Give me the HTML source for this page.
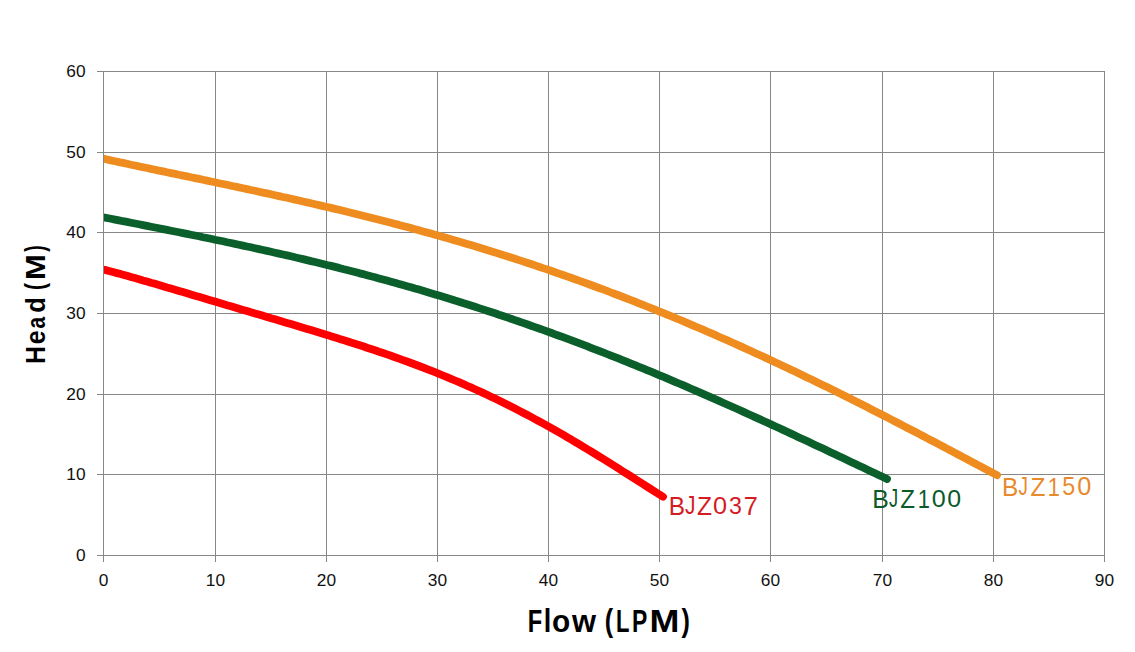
<!DOCTYPE html>
<html><head><meta charset="utf-8"><style>
html,body{margin:0;padding:0;background:#fff;}
body{width:1135px;height:652px;overflow:hidden;position:relative;}
svg{position:absolute;left:0;top:0;}
text{font-family:"Liberation Sans",sans-serif;}
</style></head>
<body>
<svg width="1135" height="652" viewBox="0 0 1135 652">
<defs><clipPath id="clip"><rect x="104" y="0" width="1135" height="652"/></clipPath></defs>
<g stroke="#878787" stroke-width="1" shape-rendering="crispEdges">
<line x1="97" y1="71.5" x2="1105" y2="71.5"/>
<line x1="97" y1="152.5" x2="1105" y2="152.5"/>
<line x1="97" y1="232.5" x2="1105" y2="232.5"/>
<line x1="97" y1="313.5" x2="1105" y2="313.5"/>
<line x1="97" y1="394.5" x2="1105" y2="394.5"/>
<line x1="97" y1="474.5" x2="1105" y2="474.5"/>
<line x1="97" y1="555.5" x2="1105" y2="555.5"/>
<line x1="215.5" y1="71" x2="215.5" y2="562"/>
<line x1="326.5" y1="71" x2="326.5" y2="562"/>
<line x1="437.5" y1="71" x2="437.5" y2="562"/>
<line x1="548.5" y1="71" x2="548.5" y2="562"/>
<line x1="659.5" y1="71" x2="659.5" y2="562"/>
<line x1="770.5" y1="71" x2="770.5" y2="562"/>
<line x1="882.5" y1="71" x2="882.5" y2="562"/>
<line x1="993.5" y1="71" x2="993.5" y2="562"/>
<line x1="1104.5" y1="71" x2="1104.5" y2="562"/>
</g>
<path d="M103.0,158.6 L107.0,159.5 L111.0,160.4 L115.0,161.2 L119.0,162.1 L123.0,162.9 L127.0,163.8 L131.0,164.7 L135.0,165.5 L139.0,166.4 L143.0,167.2 L147.0,168.0 L151.0,168.9 L155.0,169.7 L159.0,170.6 L163.0,171.4 L167.0,172.3 L171.0,173.1 L175.0,173.9 L179.0,174.8 L183.0,175.6 L187.0,176.4 L191.0,177.3 L195.0,178.1 L199.0,178.9 L203.0,179.8 L207.0,180.6 L211.0,181.5 L215.0,182.3 L219.0,183.2 L223.0,184.0 L227.0,184.8 L231.0,185.7 L235.0,186.5 L239.0,187.4 L243.0,188.2 L247.0,189.1 L251.0,190.0 L255.0,190.8 L259.0,191.7 L263.0,192.6 L267.0,193.4 L271.0,194.3 L275.0,195.2 L279.0,196.1 L283.0,197.0 L287.0,197.8 L291.0,198.7 L295.0,199.6 L299.0,200.5 L303.0,201.5 L307.0,202.4 L311.0,203.3 L315.0,204.2 L319.0,205.1 L323.0,206.1 L327.0,207.0 L331.0,207.9 L335.0,208.9 L339.0,209.8 L343.0,210.8 L347.0,211.8 L351.0,212.7 L355.0,213.7 L359.0,214.7 L363.0,215.7 L367.0,216.7 L371.0,217.7 L375.0,218.7 L379.0,219.7 L383.0,220.7 L387.0,221.8 L391.0,222.8 L395.0,223.9 L399.0,224.9 L403.0,226.0 L407.0,227.0 L411.0,228.1 L415.0,229.2 L419.0,230.3 L423.0,231.4 L427.0,232.5 L431.0,233.6 L435.0,234.7 L439.0,235.8 L443.0,236.9 L447.0,238.1 L451.0,239.2 L455.0,240.4 L459.0,241.6 L463.0,242.7 L467.0,243.9 L471.0,245.1 L475.0,246.3 L479.0,247.5 L483.0,248.7 L487.0,250.0 L491.0,251.2 L495.0,252.4 L499.0,253.7 L503.0,255.0 L507.0,256.2 L511.0,257.5 L515.0,258.8 L519.0,260.1 L523.0,261.4 L527.0,262.7 L531.0,264.0 L535.0,265.4 L539.0,266.7 L543.0,268.1 L547.0,269.4 L551.0,270.8 L555.0,272.2 L559.0,273.6 L563.0,275.0 L567.0,276.4 L571.0,277.8 L575.0,279.2 L579.0,280.6 L583.0,282.1 L587.0,283.5 L591.0,285.0 L595.0,286.5 L599.0,288.0 L603.0,289.4 L607.0,290.9 L611.0,292.5 L615.0,294.0 L619.0,295.5 L623.0,297.0 L627.0,298.6 L631.0,300.1 L635.0,301.7 L639.0,303.3 L643.0,304.9 L647.0,306.5 L651.0,308.1 L655.0,309.7 L659.0,311.3 L663.0,312.9 L667.0,314.6 L671.0,316.2 L675.0,317.9 L679.0,319.5 L683.0,321.2 L687.0,322.9 L691.0,324.6 L695.0,326.3 L699.0,328.0 L703.0,329.7 L707.0,331.5 L711.0,333.2 L715.0,334.9 L719.0,336.7 L723.0,338.5 L727.0,340.2 L731.0,342.0 L735.0,343.8 L739.0,345.6 L743.0,347.4 L747.0,349.2 L751.0,351.0 L755.0,352.9 L759.0,354.7 L763.0,356.6 L767.0,358.4 L771.0,360.3 L775.0,362.2 L779.0,364.0 L783.0,365.9 L787.0,367.8 L791.0,369.7 L795.0,371.6 L799.0,373.5 L803.0,375.5 L807.0,377.4 L811.0,379.3 L815.0,381.3 L819.0,383.2 L823.0,385.2 L827.0,387.1 L831.0,389.1 L835.0,391.1 L839.0,393.1 L843.0,395.1 L847.0,397.1 L851.0,399.1 L855.0,401.1 L859.0,403.1 L863.0,405.1 L867.0,407.1 L871.0,409.2 L875.0,411.2 L879.0,413.2 L883.0,415.3 L887.0,417.3 L891.0,419.4 L895.0,421.5 L899.0,423.5 L903.0,425.6 L907.0,427.7 L911.0,429.7 L915.0,431.8 L919.0,433.9 L923.0,436.0 L927.0,438.1 L931.0,440.2 L935.0,442.3 L939.0,444.4 L943.0,446.5 L947.0,448.6 L951.0,450.7 L955.0,452.9 L959.0,455.0 L963.0,457.1 L967.0,459.2 L971.0,461.4 L975.0,463.5 L979.0,465.6 L983.0,467.7 L987.0,469.9 L991.0,472.0 L995.0,474.1 L997.0,475.2" stroke="#ef8c1f" stroke-width="7.8" fill="none" stroke-linecap="round" stroke-linejoin="round" clip-path="url(#clip)"/>
<path d="M103.0,217.2 L107.0,218.0 L111.0,218.8 L115.0,219.6 L119.0,220.4 L123.0,221.2 L127.0,221.9 L131.0,222.7 L135.0,223.5 L139.0,224.3 L143.0,225.1 L147.0,225.9 L151.0,226.7 L155.0,227.5 L159.0,228.3 L163.0,229.1 L167.0,229.9 L171.0,230.7 L175.0,231.5 L179.0,232.3 L183.0,233.1 L187.0,233.9 L191.0,234.7 L195.0,235.5 L199.0,236.3 L203.0,237.2 L207.0,238.0 L211.0,238.8 L215.0,239.7 L219.0,240.5 L223.0,241.3 L227.0,242.2 L231.0,243.0 L235.0,243.9 L239.0,244.7 L243.0,245.6 L247.0,246.5 L251.0,247.3 L255.0,248.2 L259.0,249.1 L263.0,250.0 L267.0,250.9 L271.0,251.8 L275.0,252.7 L279.0,253.6 L283.0,254.5 L287.0,255.4 L291.0,256.3 L295.0,257.3 L299.0,258.2 L303.0,259.1 L307.0,260.1 L311.0,261.1 L315.0,262.0 L319.0,263.0 L323.0,264.0 L327.0,265.0 L331.0,265.9 L335.0,266.9 L339.0,267.9 L343.0,269.0 L347.0,270.0 L351.0,271.0 L355.0,272.0 L359.0,273.1 L363.0,274.1 L367.0,275.2 L371.0,276.3 L375.0,277.3 L379.0,278.4 L383.0,279.5 L387.0,280.6 L391.0,281.7 L395.0,282.8 L399.0,283.9 L403.0,285.1 L407.0,286.2 L411.0,287.3 L415.0,288.5 L419.0,289.6 L423.0,290.8 L427.0,292.0 L431.0,293.2 L435.0,294.4 L439.0,295.6 L443.0,296.8 L447.0,298.0 L451.0,299.2 L455.0,300.5 L459.0,301.7 L463.0,303.0 L467.0,304.2 L471.0,305.5 L475.0,306.8 L479.0,308.1 L483.0,309.4 L487.0,310.7 L491.0,312.0 L495.0,313.3 L499.0,314.7 L503.0,316.0 L507.0,317.4 L511.0,318.7 L515.0,320.1 L519.0,321.5 L523.0,322.9 L527.0,324.3 L531.0,325.7 L535.0,327.1 L539.0,328.5 L543.0,329.9 L547.0,331.4 L551.0,332.8 L555.0,334.3 L559.0,335.7 L563.0,337.2 L567.0,338.7 L571.0,340.2 L575.0,341.7 L579.0,343.2 L583.0,344.7 L587.0,346.2 L591.0,347.8 L595.0,349.3 L599.0,350.9 L603.0,352.4 L607.0,354.0 L611.0,355.6 L615.0,357.1 L619.0,358.7 L623.0,360.3 L627.0,361.9 L631.0,363.6 L635.0,365.2 L639.0,366.8 L643.0,368.4 L647.0,370.1 L651.0,371.7 L655.0,373.4 L659.0,375.1 L663.0,376.7 L667.0,378.4 L671.0,380.1 L675.0,381.8 L679.0,383.5 L683.0,385.2 L687.0,386.9 L691.0,388.7 L695.0,390.4 L699.0,392.1 L703.0,393.9 L707.0,395.6 L711.0,397.4 L715.0,399.1 L719.0,400.9 L723.0,402.7 L727.0,404.5 L731.0,406.3 L735.0,408.0 L739.0,409.8 L743.0,411.6 L747.0,413.5 L751.0,415.3 L755.0,417.1 L759.0,418.9 L763.0,420.7 L767.0,422.6 L771.0,424.4 L775.0,426.2 L779.0,428.1 L783.0,429.9 L787.0,431.8 L791.0,433.6 L795.0,435.5 L799.0,437.4 L803.0,439.2 L807.0,441.1 L811.0,443.0 L815.0,444.9 L819.0,446.7 L823.0,448.6 L827.0,450.5 L831.0,452.4 L835.0,454.3 L839.0,456.2 L843.0,458.1 L847.0,460.0 L851.0,461.9 L855.0,463.8 L859.0,465.7 L863.0,467.6 L867.0,469.5 L871.0,471.4 L875.0,473.3 L879.0,475.2 L883.0,477.1 L887.0,479.0" stroke="#0a5f2a" stroke-width="7.8" fill="none" stroke-linecap="round" stroke-linejoin="round" clip-path="url(#clip)"/>
<path d="M103.0,269.4 L107.0,270.4 L111.0,271.5 L115.0,272.6 L119.0,273.6 L123.0,274.7 L127.0,275.8 L131.0,277.0 L135.0,278.1 L139.0,279.2 L143.0,280.4 L147.0,281.5 L151.0,282.7 L155.0,283.8 L159.0,285.0 L163.0,286.2 L167.0,287.4 L171.0,288.5 L175.0,289.7 L179.0,290.9 L183.0,292.1 L187.0,293.3 L191.0,294.5 L195.0,295.7 L199.0,296.8 L203.0,298.0 L207.0,299.2 L211.0,300.4 L215.0,301.6 L219.0,302.8 L223.0,304.0 L227.0,305.2 L231.0,306.3 L235.0,307.5 L239.0,308.7 L243.0,309.9 L247.0,311.1 L251.0,312.3 L255.0,313.4 L259.0,314.6 L263.0,315.8 L267.0,317.0 L271.0,318.2 L275.0,319.3 L279.0,320.5 L283.0,321.7 L287.0,322.9 L291.0,324.1 L295.0,325.3 L299.0,326.5 L303.0,327.7 L307.0,328.9 L311.0,330.1 L315.0,331.3 L319.0,332.5 L323.0,333.7 L327.0,334.9 L331.0,336.2 L335.0,337.4 L339.0,338.7 L343.0,339.9 L347.0,341.2 L351.0,342.5 L355.0,343.7 L359.0,345.0 L363.0,346.3 L367.0,347.7 L371.0,349.0 L375.0,350.3 L379.0,351.7 L383.0,353.0 L387.0,354.4 L391.0,355.8 L395.0,357.2 L399.0,358.6 L403.0,360.1 L407.0,361.5 L411.0,363.0 L415.0,364.5 L419.0,366.0 L423.0,367.5 L427.0,369.1 L431.0,370.7 L435.0,372.2 L439.0,373.8 L443.0,375.5 L447.0,377.1 L451.0,378.8 L455.0,380.5 L459.0,382.2 L463.0,383.9 L467.0,385.7 L471.0,387.4 L475.0,389.2 L479.0,391.1 L483.0,392.9 L487.0,394.8 L491.0,396.7 L495.0,398.6 L499.0,400.5 L503.0,402.5 L507.0,404.5 L511.0,406.5 L515.0,408.5 L519.0,410.6 L523.0,412.7 L527.0,414.8 L531.0,416.9 L535.0,419.1 L539.0,421.2 L543.0,423.4 L547.0,425.6 L551.0,427.9 L555.0,430.2 L559.0,432.4 L563.0,434.7 L567.0,437.1 L571.0,439.4 L575.0,441.8 L579.0,444.2 L583.0,446.6 L587.0,449.0 L591.0,451.4 L595.0,453.9 L599.0,456.3 L603.0,458.8 L607.0,461.3 L611.0,463.8 L615.0,466.3 L619.0,468.8 L623.0,471.4 L627.0,473.9 L631.0,476.4 L635.0,479.0 L639.0,481.5 L643.0,484.1 L647.0,486.6 L651.0,489.1 L655.0,491.7 L659.0,494.2 L663.0,496.7" stroke="#ff0000" stroke-width="7.8" fill="none" stroke-linecap="round" stroke-linejoin="round" clip-path="url(#clip)"/>
<line x1="103.5" y1="71" x2="103.5" y2="562" stroke="#878787" stroke-width="1" shape-rendering="crispEdges"/>
<g font-size="16.5" fill="#111">
<text transform="translate(85.6,77) scale(1.05,1)" text-anchor="end">60</text>
<text transform="translate(85.6,158) scale(1.05,1)" text-anchor="end">50</text>
<text transform="translate(85.6,238) scale(1.05,1)" text-anchor="end">40</text>
<text transform="translate(85.6,319) scale(1.05,1)" text-anchor="end">30</text>
<text transform="translate(85.6,400) scale(1.05,1)" text-anchor="end">20</text>
<text transform="translate(85.6,480) scale(1.05,1)" text-anchor="end">10</text>
<text transform="translate(85.6,561) scale(1.05,1)" text-anchor="end">0</text>
<text transform="translate(103.5,586) scale(1.05,1)" text-anchor="middle">0</text>
<text transform="translate(215.5,586) scale(1.05,1)" text-anchor="middle">10</text>
<text transform="translate(326.5,586) scale(1.05,1)" text-anchor="middle">20</text>
<text transform="translate(437.5,586) scale(1.05,1)" text-anchor="middle">30</text>
<text transform="translate(548.5,586) scale(1.05,1)" text-anchor="middle">40</text>
<text transform="translate(659.5,586) scale(1.05,1)" text-anchor="middle">50</text>
<text transform="translate(770.5,586) scale(1.05,1)" text-anchor="middle">60</text>
<text transform="translate(882.5,586) scale(1.05,1)" text-anchor="middle">70</text>
<text transform="translate(993.5,586) scale(1.05,1)" text-anchor="middle">80</text>
<text transform="translate(1104.5,586) scale(1.05,1)" text-anchor="middle">90</text>
</g>
<text font-size="24" fill="#d41c24" transform="matrix(1.01817,0,0,1.05378,668.796,514.700)">B</text>
<text font-size="24" fill="#d41c24" transform="matrix(0.87398,0,0,1.03868,685.064,514.451)">J</text>
<text font-size="24" fill="#d41c24" transform="matrix(1.02646,0,0,1.05378,696.912,514.700)">Z</text>
<text font-size="24" fill="#d41c24" transform="matrix(1.05474,0,0,1.02401,713.013,514.454)">0</text>
<text font-size="24" fill="#d41c24" transform="matrix(0.96695,0,0,1.02401,729.118,514.454)">3</text>
<text font-size="24" fill="#d41c24" transform="matrix(1.05311,0,0,1.05378,743.811,514.700)">7</text>
<text font-size="24" fill="#0b5a2a" transform="matrix(1.03383,0,0,1.05984,872.165,507.500)">B</text>
<text font-size="24" fill="#0b5a2a" transform="matrix(0.76220,0,0,1.04465,889.107,507.249)">J</text>
<text font-size="24" fill="#0b5a2a" transform="matrix(1.00365,0,0,1.05984,900.329,507.500)">Z</text>
<text font-size="24" fill="#0b5a2a" transform="matrix(0.90874,0,0,1.05984,917.642,507.500)">1</text>
<text font-size="24" fill="#0b5a2a" transform="matrix(1.04603,0,0,1.02990,931.821,507.253)">0</text>
<text font-size="24" fill="#0b5a2a" transform="matrix(1.03731,0,0,1.02990,947.229,507.253)">0</text>
<text font-size="24" fill="#e8892e" transform="matrix(1.01817,0,0,1.07195,1001.896,495.700)">B</text>
<text font-size="24" fill="#e8892e" transform="matrix(0.78252,0,0,1.05659,1018.600,495.446)">J</text>
<text font-size="24" fill="#e8892e" transform="matrix(1.01886,0,0,1.07195,1030.518,495.700)">Z</text>
<text font-size="24" fill="#e8892e" transform="matrix(0.90874,0,0,1.07195,1047.642,495.700)">1</text>
<text font-size="24" fill="#e8892e" transform="matrix(0.96695,0,0,1.05659,1062.172,495.446)">5</text>
<text font-size="24" fill="#e8892e" transform="matrix(1.05474,0,0,1.04167,1077.213,495.450)">0</text>
<text font-size="30" font-weight="bold" fill="#000" transform="matrix(0.78895,0,0,1.07074,527.814,632.000)">F</text>
<text font-size="30" font-weight="bold" fill="#000" transform="matrix(0.90024,0,0,1.08046,543.709,632.000)">l</text>
<text font-size="30" font-weight="bold" fill="#000" transform="matrix(0.99437,0,0,1.03406,552.037,631.990)">o</text>
<text font-size="30" font-weight="bold" fill="#000" transform="matrix(1.03023,0,0,1.02904,571.893,632.000)">w</text>
<text font-size="30" font-weight="bold" fill="#000" transform="matrix(0.83924,0,0,1.06109,604.641,631.079)">(</text>
<text font-size="30" font-weight="bold" fill="#000" transform="matrix(0.73424,0,0,1.07074,616.124,632.000)">L</text>
<text font-size="30" font-weight="bold" fill="#000" transform="matrix(0.76561,0,0,1.07074,631.961,632.000)">P</text>
<text font-size="30" font-weight="bold" fill="#000" transform="matrix(1.19695,0,0,1.07074,649.494,632.000)">M</text>
<text font-size="30" font-weight="bold" fill="#000" transform="matrix(0.83924,0,0,1.06109,681.575,631.079)">)</text>
<text font-size="27" font-weight="bold" fill="#000" transform="matrix(0,-0.92593,1.03359,0,45.100,363.875)">H</text>
<text font-size="27" font-weight="bold" fill="#000" transform="matrix(0,-0.92017,1.00703,0,45.028,344.169)">e</text>
<text font-size="27" font-weight="bold" fill="#000" transform="matrix(0,-0.76987,0.98675,0,45.034,328.403)">a</text>
<text font-size="27" font-weight="bold" fill="#000" transform="matrix(0,-0.94797,1.01285,0,45.027,312.849)">d</text>
<text font-size="27" font-weight="bold" fill="#000" transform="matrix(0,-0.77489,1.04005,0,44.359,289.946)">(</text>
<text font-size="27" font-weight="bold" fill="#000" transform="matrix(0,-1.14979,1.03359,0,45.100,279.880)">M</text>
<text font-size="27" font-weight="bold" fill="#000" transform="matrix(0,-0.72235,1.04005,0,44.359,251.720)">)</text>
</svg>
</body></html>
